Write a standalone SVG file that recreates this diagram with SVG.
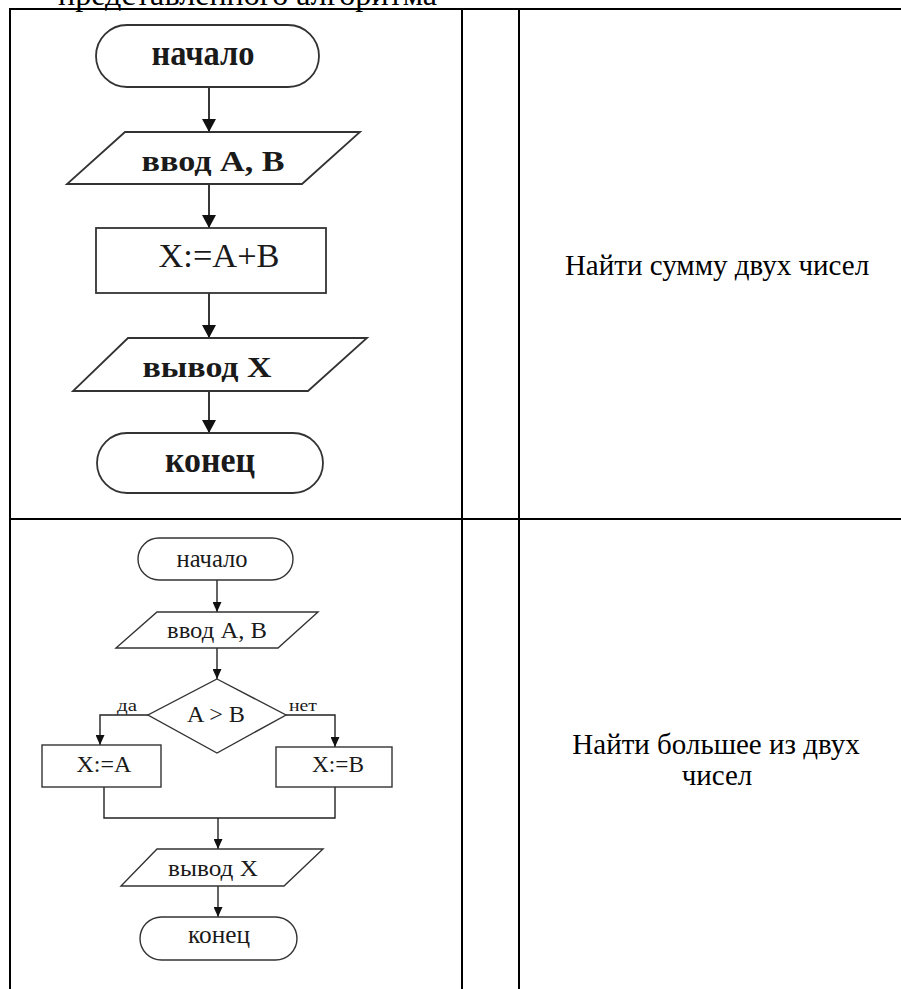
<svg xmlns="http://www.w3.org/2000/svg" width="901" height="989" viewBox="0 0 901 989">
<defs>
<style>
.tbl{stroke:#000;stroke-width:2;fill:none}
.shp{fill:#fff;stroke:#333;stroke-width:1.8}
.shp2{fill:#fff;stroke:#333;stroke-width:1.4}
.con{fill:none;stroke:#222;stroke-width:1.8}
.con2{fill:none;stroke:#222;stroke-width:1.4}
.t{font-family:"Liberation Serif","Times New Roman",serif;fill:#1a1a1a;text-anchor:middle}
.b{font-weight:bold}
.desc{font-family:"Liberation Serif","Times New Roman",serif;fill:#000;font-size:29px;text-anchor:middle}
</style>
<marker id="ah1" viewBox="0 0 13 14" refX="13" refY="7" markerWidth="13" markerHeight="14" orient="auto" markerUnits="userSpaceOnUse"><path d="M0,0 L13,7 L0,14 z" fill="#111"/></marker>
<marker id="ah2" viewBox="0 0 10 9" refX="10" refY="4.5" markerWidth="10" markerHeight="9" orient="auto" markerUnits="userSpaceOnUse"><path d="M0,0 L10,4.5 L0,9 z" fill="#111"/></marker>
</defs>
<rect x="0" y="0" width="901" height="989" fill="#fff"/>
<text x="58" y="5" font-family="Liberation Serif, serif" font-size="31" fill="#000" textLength="379" lengthAdjust="spacingAndGlyphs">представленного алгоритма</text>
<g id="table">
<line class="tbl" x1="10" y1="9" x2="901" y2="9"/>
<line class="tbl" x1="10" y1="8" x2="10" y2="989"/>
<line class="tbl" x1="462" y1="8" x2="462" y2="989"/>
<line class="tbl" x1="519" y1="8" x2="519" y2="989"/>
<line class="tbl" x1="10" y1="519" x2="901" y2="519"/>
</g>
<g id="connectors">
<line class="con" x1="209" y1="87" x2="209" y2="132" marker-end="url(#ah1)"/>
<line class="con" x1="209" y1="184" x2="209" y2="228" marker-end="url(#ah1)"/>
<line class="con" x1="209" y1="293" x2="209" y2="338" marker-end="url(#ah1)"/>
<line class="con" x1="209" y1="391" x2="209" y2="433" marker-end="url(#ah1)"/>
<line class="con2" x1="217" y1="580" x2="217" y2="612" marker-end="url(#ah2)"/>
<line class="con2" x1="217" y1="648" x2="217" y2="679" marker-end="url(#ah2)"/>
<polyline class="con2" points="148,715 100,715 100,745" marker-end="url(#ah2)"/>
<polyline class="con2" points="286,715 335,715 335,747" marker-end="url(#ah2)"/>
<polyline class="con2" points="104,787 104,818 335,818 335,787"/>
<line class="con2" x1="218" y1="818" x2="218" y2="849" marker-end="url(#ah2)"/>
<line class="con2" x1="218" y1="886" x2="218" y2="917" marker-end="url(#ah2)"/>
</g>
<g id="start1">
<rect class="shp" x="96" y="25" width="223" height="62" rx="31"/>
<text class="t b" x="203" y="65" font-size="36" textLength="103" lengthAdjust="spacingAndGlyphs">начало</text>
</g>
<g id="input1">
<polygon class="shp" points="125,132 360,132 302,184 67,184"/>
<text class="t b" x="213" y="171" font-size="30" textLength="143" lengthAdjust="spacingAndGlyphs">ввод А, В</text>
</g>
<g id="proc1">
<rect class="shp" x="96" y="228" width="230" height="65"/>
<text class="t" x="219" y="267" font-size="33" textLength="121" lengthAdjust="spacingAndGlyphs">X:=A+B</text>
</g>
<g id="output1">
<polygon class="shp" points="128,338 367,338 308,391 73,391"/>
<text class="t b" x="207" y="377" font-size="30" textLength="129" lengthAdjust="spacingAndGlyphs">вывод X</text>
</g>
<g id="end1">
<rect class="shp" x="97" y="433" width="226" height="60" rx="30"/>
<text class="t b" x="210" y="472" font-size="36" textLength="90" lengthAdjust="spacingAndGlyphs">конец</text>
</g>
<g id="start2">
<rect class="shp2" x="138" y="538" width="155" height="42" rx="21"/>
<text class="t" x="212" y="567" font-size="25" textLength="71" lengthAdjust="spacingAndGlyphs">начало</text>
</g>
<g id="input2">
<polygon class="shp2" points="157,612 318,612 278,648 116,648"/>
<text class="t" x="217" y="638" font-size="24" textLength="100" lengthAdjust="spacingAndGlyphs">ввод А, В</text>
</g>
<g id="decision">
<polygon class="shp2" points="217,679 286,715 217,753 148,715"/>
<text class="t" x="216" y="722" font-size="24" textLength="58" lengthAdjust="spacingAndGlyphs">A &gt; B</text>
<text class="t" x="127" y="711" font-size="17" textLength="20" lengthAdjust="spacingAndGlyphs">да</text>
<text class="t" x="303" y="711" font-size="17" textLength="28" lengthAdjust="spacingAndGlyphs">нет</text>
</g>
<g id="procA">
<rect class="shp2" x="42" y="745" width="119" height="42"/>
<text class="t" x="104" y="772" font-size="24" textLength="55" lengthAdjust="spacingAndGlyphs">X:=A</text>
</g>
<g id="procB">
<rect class="shp2" x="276" y="747" width="116" height="40"/>
<text class="t" x="338" y="772" font-size="24" textLength="52" lengthAdjust="spacingAndGlyphs">X:=B</text>
</g>
<g id="output2">
<polygon class="shp2" points="157,849 323,849 284,886 121,886"/>
<text class="t" x="213" y="876" font-size="24" textLength="90" lengthAdjust="spacingAndGlyphs">вывод X</text>
</g>
<g id="end2">
<rect class="shp2" x="140" y="917" width="157" height="43" rx="21.5"/>
<text class="t" x="219" y="943" font-size="25" textLength="62" lengthAdjust="spacingAndGlyphs">конец</text>
</g>
<g id="descriptions">
<text class="desc" x="717" y="275">Найти сумму двух чисел</text>
<text class="desc" x="716" y="754">Найти большее из двух</text>
<text class="desc" x="717" y="785">чисел</text>
</g>
</svg>
